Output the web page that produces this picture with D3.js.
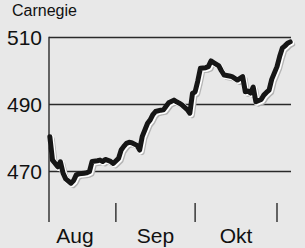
<!DOCTYPE html>
<html><head><meta charset="utf-8">
<script src="https://cdn.jsdelivr.net/npm/d3@7"></script>
<style>
html,body{margin:0;padding:0;background:#e8e8e8;}
svg{display:block;font-family:"Liberation Sans",Arial,Helvetica,sans-serif;}
</style></head>
<body>
<svg id="c" width="305" height="248"></svg>
<script>
const subtitle = "Carnegie";
const dates = ["08-07","08-08","08-10","08-11","08-12","08-13","08-15","08-16","08-17","08-18","08-20","08-21","08-22","08-23","08-25","08-26","08-27","08-28","08-30","08-31",
"09-02","09-03","09-04","09-05","09-06","09-07","09-09","09-10","09-11","09-13","09-14","09-15","09-16","09-18","09-19","09-20","09-21","09-23","09-24","09-25","09-26","09-28","09-29","09-30",
"10-01","10-02","10-03","10-05","10-06","10-07","10-08","10-10","10-11","10-12","10-14","10-15","10-16","10-17","10-19","10-20","10-21","10-22","10-23","10-24","10-26","10-27","10-28","10-29","10-30",
"11-01","11-02","11-03","11-04","11-05","11-06"];
const values = [480.4,473.4,471.4,472.9,469.5,467.8,466.5,467.3,469.0,469.3,469.5,469.6,470.0,473.0,473.2,473.4,473.0,473.6,473.0,472.4,
473.9,476.4,477.5,478.4,478.7,478.6,477.8,476.4,480.5,484.4,485.4,487.0,487.9,488.3,488.4,489.5,490.5,491.3,490.8,490.4,489.9,488.5,487.4,493.3,
493.8,497.0,500.8,501.0,501.3,503.0,502.5,501.5,500.0,498.8,498.5,498.3,497.8,497.3,498.3,493.8,494.0,493.4,495.2,490.8,491.5,492.8,493.6,494.3,497.5,
501.3,504.3,506.8,507.5,508.3,508.7];
const yTicks = [470, 490, 510];
const monthStarts = ["08-01","09-01","10-01","11-01"];
const monthLabels = ["Aug","Sep","Okt"];

(function(){
const year = 2018;
const parse = d3.timeParse("%Y-%m-%d");
const toDate = s => parse(year + "-" + s);
const data = dates.map((d,i)=>({date:toDate(d), value:values[i]}));
const mDates = monthStarts.map(toDate);

const svg = d3.select("#c");
const L = 49, R = 291, T = 37.5, B = 222;

const x = d3.scaleTime().domain([mDates[0], mDates[3]]).range([34, 277]);
const y = d3.scaleLinear().domain([470, 510]).range([171.5, 37.5]);

svg.append("text").attr("x", 12).attr("y", 16).attr("font-size", 16).attr("fill", "#111").text(subtitle);

svg.append("g").selectAll("line").data(yTicks).join("line")
  .attr("x1", L).attr("x2", R)
  .attr("y1", d=>y(d)).attr("y2", d=>y(d))
  .attr("stroke", "#2a2a2a").attr("stroke-width", 1.4);

svg.append("g").selectAll("text").data(yTicks).join("text")
  .attr("x", 42).attr("y", d=>y(d)+7.5)
  .attr("text-anchor", "end").attr("font-size", 21).attr("fill", "#111")
  .text(d=>d);

svg.append("line").attr("x1", L).attr("x2", L).attr("y1", T - 0.7).attr("y2", B)
  .attr("stroke", "#2a2a2a").attr("stroke-width", 1.4);

svg.append("g").selectAll("line").data(mDates.slice(1)).join("line")
  .attr("x1", d=>x(d)).attr("x2", d=>x(d))
  .attr("y1", 203).attr("y2", B)
  .attr("stroke", "#2a2a2a").attr("stroke-width", 1.4);

svg.append("g").selectAll("text").data(monthLabels).join("text")
  .attr("x", (d,i)=> (x(mDates[i]) + x(mDates[i+1]))/2)
  .attr("y", 243)
  .attr("text-anchor", "middle").attr("font-size", 21).attr("fill", "#111")
  .text(d=>d);

const line = d3.line().x(d=>x(d.date)).y(d=>y(d.value)).curve(d3.curveLinear);

svg.append("path").datum(data).attr("d", line)
  .attr("transform", "translate(2.5,2.5)")
  .attr("fill", "none").attr("stroke", "#b5b5b5").attr("stroke-width", 5)
  .attr("stroke-linejoin", "round").attr("stroke-linecap", "round");
svg.append("path").datum(data).attr("d", line)
  .attr("transform", "translate(1,1)")
  .attr("fill", "none").attr("stroke", "#ffffff").attr("stroke-width", 6)
  .attr("stroke-linejoin", "round").attr("stroke-linecap", "round");
svg.append("path").datum(data).attr("d", line)
  .attr("fill", "none").attr("stroke", "#161616").attr("stroke-width", 5)
  .attr("stroke-linejoin", "round").attr("stroke-linecap", "round");
})();
</script>
</body></html>
